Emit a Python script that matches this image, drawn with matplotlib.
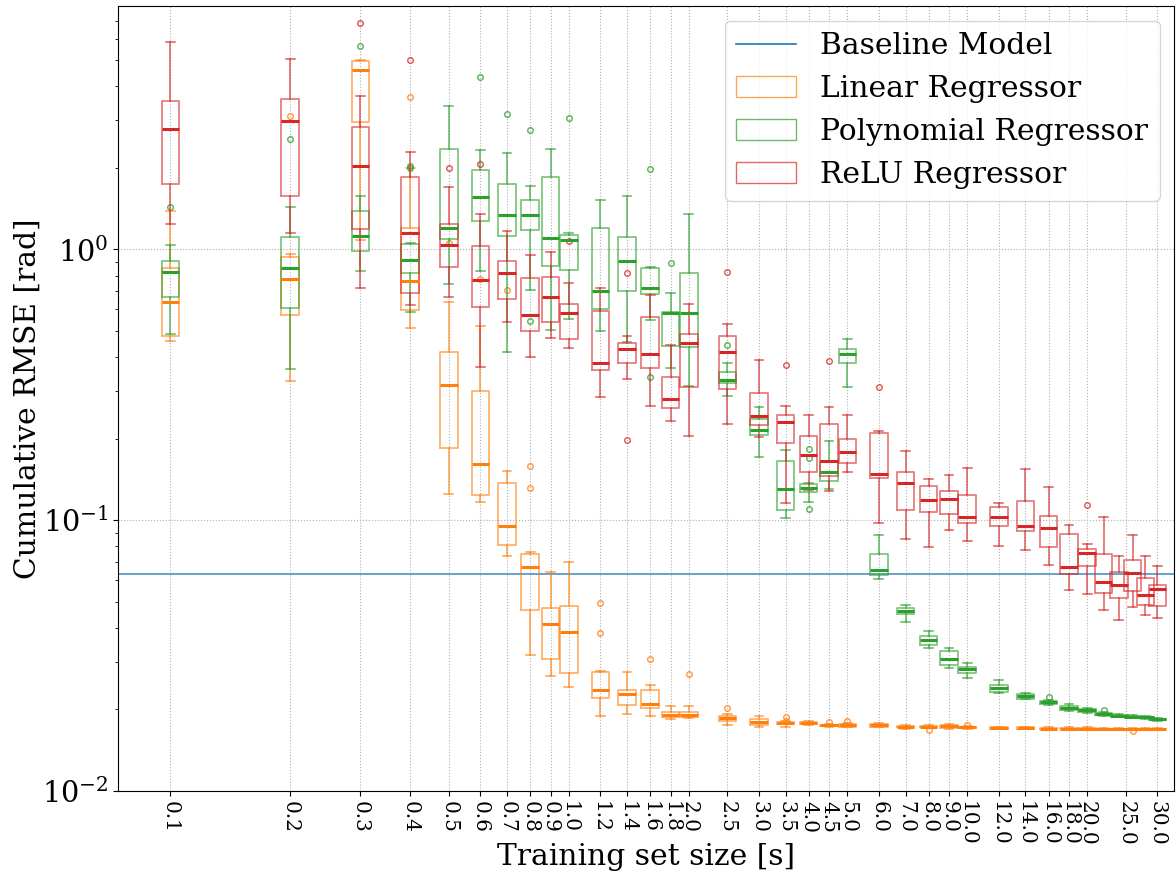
import matplotlib
matplotlib.use("Agg")
import matplotlib.pyplot as plt
from matplotlib.patches import Patch
from matplotlib.lines import Line2D
import numpy as np

plt.rcParams['font.family'] = 'serif'
plt.rcParams['mathtext.fontset'] = 'dejavuserif'

# training set sizes [s] at which each model was evaluated
SIZES = [0.1, 0.2, 0.3, 0.4, 0.5, 0.6, 0.7, 0.8, 0.9, 1.0, 1.2, 1.4, 1.6, 1.8,
         2.0, 2.5, 3.0, 3.5, 4.0, 4.5, 5.0, 6.0, 7.0, 8.0, 9.0, 10.0, 12.0,
         14.0, 16.0, 18.0, 20.0, 22.0, 24.0, 26.0, 28.0, 30.0]
TICKS = [0.1, 0.2, 0.3, 0.4, 0.5, 0.6, 0.7, 0.8, 0.9, 1.0, 1.2, 1.4, 1.6, 1.8,
         2.0, 2.5, 3.0, 3.5, 4.0, 4.5, 5.0, 6.0, 7.0, 8.0, 9.0, 10.0, 12.0,
         14.0, 16.0, 18.0, 20.0, 25.0, 30.0]
BASELINE = 0.0632

# Linear regressor: lower whisker, q1, median, q3, upper whisker, fliers
LIN_LO = [0.46, 0.326, 1.08, 0.511, 0.125, 0.117, 0.0738, 0.0317, 0.0265, 0.0242,
          0.0190, 0.0192, 0.0190, 0.0184, 0.0186, 0.0176, 0.0173, 0.0173, 0.0175,
          0.0172, 0.0172, 0.0172, 0.0170, 0.0171, 0.0170, 0.0170, 0.0169, 0.0169,
          0.0168, 0.0168, 0.0168, 0.0168, 0.0168, 0.0168, 0.0168, 0.0168]
LIN_Q1 = [0.478, 0.570, 2.96, 0.595, 0.184, 0.124, 0.0807, 0.0465, 0.0308, 0.0273,
          0.0221, 0.0208, 0.0202, 0.0188, 0.0187, 0.0182, 0.0176, 0.0177, 0.0177,
          0.0174, 0.0173, 0.0173, 0.0172, 0.0172, 0.0171, 0.0171, 0.0170, 0.0170,
          0.0169, 0.0169, 0.0169, 0.0169, 0.0169, 0.0169, 0.0169, 0.0169]
LIN_MED = [0.637, 0.775, 4.59, 0.764, 0.315, 0.161, 0.0955, 0.0672, 0.0412, 0.0386,
           0.0236, 0.0228, 0.0209, 0.0191, 0.0191, 0.0186, 0.0180, 0.0178, 0.0178,
           0.0175, 0.0175, 0.0175, 0.0173, 0.0172, 0.0174, 0.0172, 0.0171, 0.0171,
           0.0170, 0.0170, 0.0170, 0.0169, 0.0169, 0.0169, 0.0169, 0.0169]
LIN_Q3 = [0.855, 0.934, 4.97, 1.20, 0.417, 0.301, 0.137, 0.0752, 0.0472, 0.0484,
          0.0275, 0.0237, 0.0236, 0.0196, 0.0196, 0.0190, 0.0184, 0.0180, 0.0180,
          0.0176, 0.0177, 0.0177, 0.0174, 0.0174, 0.0176, 0.0173, 0.0172, 0.0172,
          0.0171, 0.0171, 0.0171, 0.0170, 0.0170, 0.0170, 0.0170, 0.0170]
LIN_HI = [1.38, 0.96, 5.0, 1.99, 0.637, 0.52, 0.152, 0.0763, 0.0644, 0.070,
          0.0277, 0.0276, 0.0247, 0.0206, 0.0206, 0.0192, 0.0190, 0.0181, 0.0181,
          0.0177, 0.0178, 0.0178, 0.0176, 0.0175, 0.0177, 0.0174, 0.0173, 0.0173,
          0.0172, 0.0172, 0.0172, 0.0171, 0.0171, 0.0171, 0.0171, 0.0171]
LIN_FL = [[], [3.12], [], [3.65], [1.06], [0.78], [0.706], [0.158, 0.131], [], [],
          [0.0494, 0.0383], [], [0.0308], [], [0.0271], [0.0202], [], [0.0187, 0.0182],
          [], [0.0180], [0.0181], [], [], [0.0168], [], [0.0176], [], [], [], [], [],
          [], [], [0.0166], [], []]

# Polynomial regressor
POLY_LO = [0.489, 0.363, 0.829, 0.589, 0.743, 0.834, 0.419, 0.706, 0.503, 0.553,
           0.499, 0.456, 0.548, 0.365, 0.313, 0.288, 0.171, 0.102, 0.117, 0.130,
           0.309, 0.0605, 0.0419, 0.0337, 0.0284, 0.0262, 0.0231, 0.0218, 0.0207,
           0.0197, 0.0194, 0.0189, 0.0187, 0.0186, 0.0185, 0.0182]
POLY_Q1 = [0.668, 0.607, 0.99, 0.815, 1.09, 1.27, 1.12, 1.18, 0.865, 0.839,
           0.600, 0.701, 0.682, 0.441, 0.437, 0.320, 0.206, 0.109, 0.127, 0.140,
           0.381, 0.0626, 0.0452, 0.0347, 0.0293, 0.0272, 0.0232, 0.0219, 0.0210,
           0.0199, 0.0196, 0.0191, 0.0189, 0.0187, 0.0186, 0.0183]
POLY_MED = [0.826, 0.855, 1.12, 0.915, 1.20, 1.56, 1.34, 1.34, 1.10, 1.08,
            0.701, 0.903, 0.722, 0.58, 0.583, 0.330, 0.215, 0.130, 0.131, 0.150,
            0.411, 0.0655, 0.0463, 0.0360, 0.0306, 0.0283, 0.0241, 0.0224, 0.0213,
            0.0202, 0.0199, 0.0192, 0.0190, 0.0188, 0.0187, 0.0184]
POLY_Q3 = [0.908, 1.11, 1.39, 1.05, 2.35, 1.96, 1.75, 1.52, 1.85, 1.13,
           1.20, 1.11, 0.855, 0.585, 0.817, 0.353, 0.236, 0.165, 0.136, 0.165,
           0.429, 0.0749, 0.0472, 0.0372, 0.0330, 0.0287, 0.0246, 0.0229, 0.0215,
           0.0206, 0.0201, 0.0194, 0.0191, 0.0189, 0.0188, 0.0185]
POLY_HI = [1.04, 1.43, 1.57, 1.06, 3.39, 2.32, 2.27, 1.72, 2.34, 1.15,
           1.52, 1.58, 0.86, 0.688, 1.35, 0.381, 0.262, 0.182, 0.137, 0.196,
           0.467, 0.088, 0.0488, 0.0391, 0.0338, 0.0296, 0.0256, 0.0230, 0.0216,
           0.0210, 0.0202, 0.0195, 0.0192, 0.0191, 0.0189, 0.0186]
POLY_FL = [[1.43], [2.56], [5.65], [2.04, 1.99], [], [4.34], [3.17], [2.77, 0.543],
           [], [3.05], [], [], [1.98, 0.339], [0.892], [], [0.444], [], [],
           [0.183, 0.169, 0.110], [], [], [], [], [], [], [], [], [], [0.0222], [],
           [], [0.0199], [], [], [], []]

# ReLU regressor
RELU_LO = [1.24, 1.15, 0.718, 0.624, 0.668, 0.368, 0.540, 0.399, 0.469, 0.432,
           0.286, 0.332, 0.264, 0.233, 0.204, 0.226, 0.202, 0.116, 0.129, 0.128,
           0.150, 0.098, 0.0849, 0.0797, 0.0921, 0.0841, 0.080, 0.0777, 0.0686,
           0.0550, 0.0536, 0.0466, 0.0427, 0.0476, 0.0448, 0.0437]
RELU_Q1 = [1.74, 1.58, 1.19, 0.688, 0.863, 0.612, 0.653, 0.499, 0.540, 0.465,
           0.358, 0.379, 0.364, 0.259, 0.310, 0.304, 0.224, 0.193, 0.151, 0.145,
           0.162, 0.143, 0.109, 0.107, 0.105, 0.0975, 0.0953, 0.0911, 0.0795,
           0.0632, 0.068, 0.0539, 0.0514, 0.0548, 0.0485, 0.0481]
RELU_MED = [2.78, 2.98, 2.04, 1.15, 1.04, 0.77, 0.82, 0.572, 0.668, 0.583,
            0.380, 0.429, 0.411, 0.280, 0.451, 0.418, 0.242, 0.230, 0.174, 0.165,
            0.179, 0.148, 0.137, 0.119, 0.120, 0.103, 0.103, 0.0955, 0.0934,
            0.067, 0.0754, 0.0592, 0.0575, 0.0637, 0.0528, 0.0556]
RELU_Q3 = [3.54, 3.59, 2.83, 1.85, 1.24, 1.03, 0.903, 0.781, 0.792, 0.626,
           0.592, 0.453, 0.565, 0.338, 0.485, 0.480, 0.295, 0.245, 0.205, 0.226,
           0.199, 0.209, 0.150, 0.134, 0.128, 0.124, 0.112, 0.118, 0.104,
           0.0888, 0.078, 0.0749, 0.0644, 0.0711, 0.0614, 0.0575]
RELU_HI = [5.83, 5.03, 3.69, 2.28, 1.70, 1.35, 1.17, 0.953, 0.98, 0.749,
           0.718, 0.48, 0.68, 0.443, 0.626, 0.528, 0.392, 0.265, 0.245, 0.261,
           0.244, 0.214, 0.180, 0.142, 0.147, 0.156, 0.116, 0.154, 0.133,
           0.0959, 0.0817, 0.103, 0.0738, 0.088, 0.0738, 0.0678]
RELU_FL = [[], [], [6.84], [5.02], [2.0], [2.07], [], [], [], [1.07],
           [], [0.817, 0.198], [], [], [], [0.824], [], [0.375], [], [0.386],
           [], [0.309], [], [], [], [], [], [], [], [], [0.114], [], [], [], [], []]

MODELS = [
    ("Linear Regressor", "C1", LIN_LO, LIN_Q1, LIN_MED, LIN_Q3, LIN_HI, LIN_FL),
    ("Polynomial Regressor", "C2", POLY_LO, POLY_Q1, POLY_MED, POLY_Q3, POLY_HI, POLY_FL),
    ("ReLU Regressor", "C3", RELU_LO, RELU_Q1, RELU_MED, RELU_Q3, RELU_HI, RELU_FL),
]


def make_stats(lo, q1, med, q3, hi, fl):
    return [dict(whislo=a, q1=b, med=c, q3=d, whishi=e, fliers=f)
            for a, b, c, d, e, f in zip(lo, q1, med, q3, hi, fl)]


fig = plt.figure(figsize=(11.76, 8.75), dpi=100)
ax = fig.add_axes([0.1006, 0.096, 0.8981, 0.8975])
positions = np.log10(SIZES)

handles = [Line2D([], [], color="C0", lw=1.2, label="Baseline Model")]
ax.axhline(BASELINE, color="C0", lw=1.2, alpha=0.8, zorder=1)

for name, col, lo, q1, med, q3, hi, fl in MODELS:
    ax.bxp(make_stats(lo, q1, med, q3, hi, fl), positions=positions, widths=0.044,
           manage_ticks=False,
           boxprops=dict(color=col, lw=1.3, alpha=0.6),
           whiskerprops=dict(color=col, lw=1.1, alpha=0.75),
           capprops=dict(color=col, lw=1.1, alpha=0.75),
           medianprops=dict(color=col, lw=2.2),
           flierprops=dict(marker="o", markersize=4, markerfacecolor="none",
                           markeredgecolor=col, alpha=0.8))
    handles.append(Patch(facecolor="none", edgecolor=col, alpha=0.7, label=name))

ax.set_yscale("log")
ax.set_ylim(0.01, 7.94)
ax.set_xlim(-1.1305, 1.520)
ax.set_xticks(np.log10(TICKS))
ax.set_xticklabels(["%.1f" % t for t in TICKS], rotation=-90, fontsize=14.4)
ax.tick_params(axis="y", labelsize=20.7)
ax.grid(True, which="major", linestyle=":", color="#b0b0b0", lw=0.8)
ax.set_axisbelow(True)

ax.set_xlabel("Training set size [s]", fontsize=21.4, labelpad=-2)
ax.set_ylabel("Cumulative RMSE [rad]", fontsize=21.4, labelpad=0)
ax.legend(handles=handles, loc="upper right", fontsize=21.4)

fig.savefig("out.png", dpi=100)
